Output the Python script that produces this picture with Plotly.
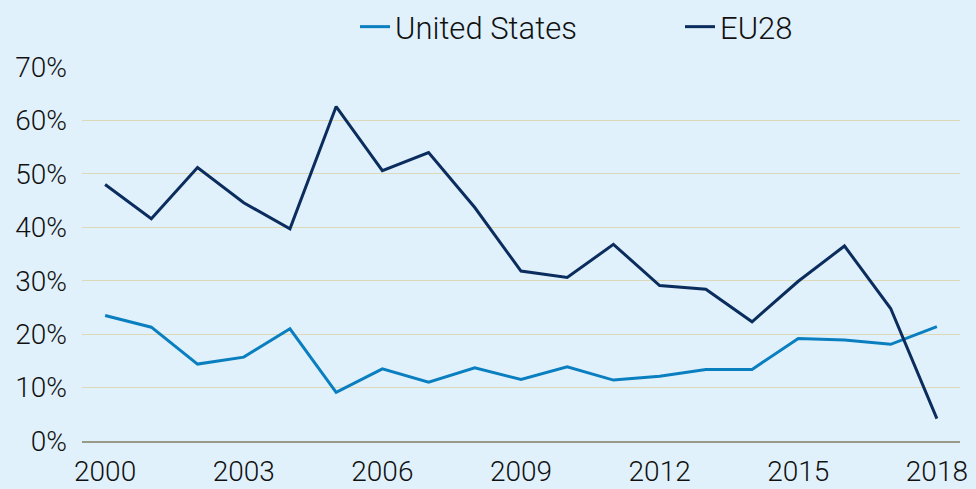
import plotly.graph_objects as go

years = list(range(2000, 2019))
us = [23.5, 21.3, 14.4, 15.7, 21.0, 9.1, 13.5, 11.0, 13.7, 11.5, 13.9, 11.4, 12.1, 13.4, 13.4, 19.2, 18.9, 18.1, 21.4]
eu28 = [48.0, 41.6, 51.2, 44.6, 39.7, 62.6, 50.6, 54.0, 43.7, 31.8, 30.6, 36.8, 29.1, 28.4, 22.3, 29.9, 36.5, 24.8, 4.2]
yticks = [0, 10, 20, 30, 40, 50, 60, 70]
xticks = [2000, 2003, 2006, 2009, 2012, 2015, 2018]

bg = "#e1f1fc"
font_family = "Roboto, Arial"

fig = go.Figure()
fig.add_trace(go.Scatter(x=years, y=us, mode="lines", name="United States",
                         line=dict(color="#0a7fc0", width=3)))
fig.add_trace(go.Scatter(x=years, y=eu28, mode="lines", name="EU28",
                         line=dict(color="#0b2d5e", width=3)))

fig.update_layout(
    width=976, height=489,
    paper_bgcolor=bg, plot_bgcolor=bg,
    margin=dict(l=82, r=16, t=67, b=48, autoexpand=False),
    font=dict(family=font_family, size=28, color="#111111", weight=300),
    showlegend=True,
    legend=dict(orientation="h", xref="container", yref="container",
                x=355 / 976, xanchor="left", y=1 - 27 / 489, yanchor="middle",
                font=dict(size=31, weight=300), bgcolor="rgba(0,0,0,0)",
                entrywidth=280, entrywidthmode="pixels", traceorder="normal"),
    xaxis=dict(range=[1999.5, 2018.5], tickvals=xticks, ticktext=[str(v) for v in xticks],
               showgrid=False, zeroline=False, showline=True, linecolor="#9a9a8a", linewidth=2,
               ticks="", tickfont=dict(size=28, weight=300), automargin=False, ticklabelstandoff=4),
    yaxis=dict(range=[0, 70], tickvals=yticks, ticktext=[f"{v}%" for v in yticks],
               showgrid=True, gridcolor="#ddd8b8", gridwidth=1, zeroline=False,
               ticks="", tickfont=dict(size=28, weight=300), ticklabelstandoff=14, automargin=False),
)
fig.write_html(
    "out.html",
    config={"displayModeBar": False},
    post_script="document.body.style.margin='0';document.body.style.background='#e1f1fc';",
)
